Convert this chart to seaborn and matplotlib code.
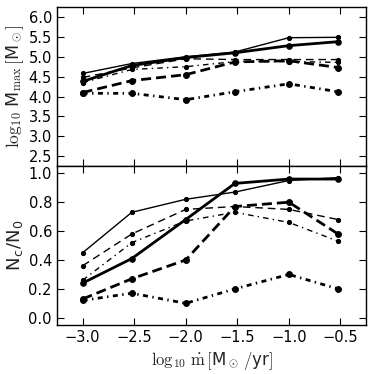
import numpy as np
import pandas as pd
import matplotlib
matplotlib.use("Agg")
import matplotlib.pyplot as plt
import seaborn as sns

# accretion rates, log10 of 1e-3 .. 3e-1 Msun/yr
mdot = [0.001, 0.003, 0.01, 0.03, 0.1, 0.3]

# upper panel: log10 Mmax
mmax_thin_solid = [4.58, 4.83, 5.00, 5.12, 5.48, 5.49]
mmax_thick_solid = [4.38, 4.78, 4.98, 5.10, 5.28, 5.38]
mmax_thin_dash = [4.48, 4.72, 4.95, 4.93, 4.93, 4.93]
mmax_thin_dashdot = [4.35, 4.68, 4.75, 4.88, 4.88, 4.86]
mmax_thick_dash = [4.10, 4.40, 4.55, 4.87, 4.90, 4.73]
mmax_thick_dashdot = [4.08, 4.08, 3.92, 4.12, 4.32, 4.12]

# lower panel: Nc/N0
frac_thin_solid = [0.45, 0.73, 0.82, 0.87, 0.95, 0.97]
frac_thick_solid = [0.24, 0.41, 0.68, 0.93, 0.96, 0.96]
frac_thin_dash = [0.36, 0.58, 0.75, 0.77, 0.75, 0.68]
frac_thin_dashdot = [0.26, 0.52, 0.67, 0.73, 0.66, 0.53]
frac_thick_dash = [0.13, 0.27, 0.40, 0.77, 0.80, 0.58]
frac_thick_dashdot = [0.12, 0.17, 0.10, 0.20, 0.30, 0.20]

sns.set_style("ticks")
plt.rcParams["font.family"] = ["DejaVu Sans"]
plt.rcParams["mathtext.fontset"] = "cm"
plt.rcParams["xtick.direction"] = "in"
plt.rcParams["ytick.direction"] = "in"
plt.rcParams["xtick.top"] = True
plt.rcParams["ytick.right"] = True
plt.rcParams["xtick.major.size"] = 5
plt.rcParams["ytick.major.size"] = 5

logm = np.log10(mdot)

# (style, linewidth, markersize)
styles = [
    ("-", 1.0, 3.0),
    ("-", 2.0, 4.0),
    ((0, (5.5, 3.5)), 1.0, 3.0),
    ((0, (4, 3, 1, 3)), 1.0, 3.0),
    ((0, (3.6, 1.8)), 2.0, 4.2),
    ((0, (1.8, 1.6, 0.5, 1.6)), 2.0, 4.2),
]

upper = [mmax_thin_solid, mmax_thick_solid, mmax_thin_dash,
         mmax_thin_dashdot, mmax_thick_dash, mmax_thick_dashdot]
lower = [frac_thin_solid, frac_thick_solid, frac_thin_dash,
         frac_thin_dashdot, frac_thick_dash, frac_thick_dashdot]

fig, (ax1, ax2) = plt.subplots(2, 1, figsize=(3.74, 3.74), dpi=100, sharex=True)
fig.subplots_adjust(left=0.152, right=0.979, top=0.981, bottom=0.131, hspace=0)

for ax, series in [(ax1, upper), (ax2, lower)]:
    for vals, (ls, lw, ms) in zip(series, styles):
        df = pd.DataFrame({"x": logm, "y": vals})
        sns.lineplot(data=df, x="x", y="y", ax=ax, color="k", linestyle=ls,
                     linewidth=lw, marker="o", markersize=ms,
                     markeredgecolor="k", markerfacecolor="k")
    for side in ax.spines.values():
        side.set_linewidth(1.0)
        side.set_color("k")
    ax.tick_params(labelsize=10.5, width=0.8, colors="k")

ax1.set_xlim(-3.25, -0.25)
ax1.set_ylim(2.25, 6.25)
ax1.set_yticks([2.5, 3.0, 3.5, 4.0, 4.5, 5.0, 5.5, 6.0])
ax2.set_ylim(-0.05, 1.05)
ax2.set_yticks([0.0, 0.2, 0.4, 0.6, 0.8, 1.0])
ax2.set_xticks([-3.0, -2.5, -2.0, -1.5, -1.0, -0.5])

ax1.set_xlabel("")
ax1.set_ylabel(r"$\log_{10}\,$M$_{\rm max}\,[$M$_\odot]$", fontsize=12.5)
ax2.set_ylabel(r"N$_\mathregular{c}$/N$_\mathregular{0}$", fontsize=13)
ax2.set_xlabel(r"$\log_{10}\,\dot{\rm m}\,[$M$_\odot\,/$yr$]$", fontsize=12)
ax1.yaxis.set_label_coords(-0.10, 0.5)
ax2.yaxis.set_label_coords(-0.10, 0.5)

fig.savefig("out.png", dpi=100)
